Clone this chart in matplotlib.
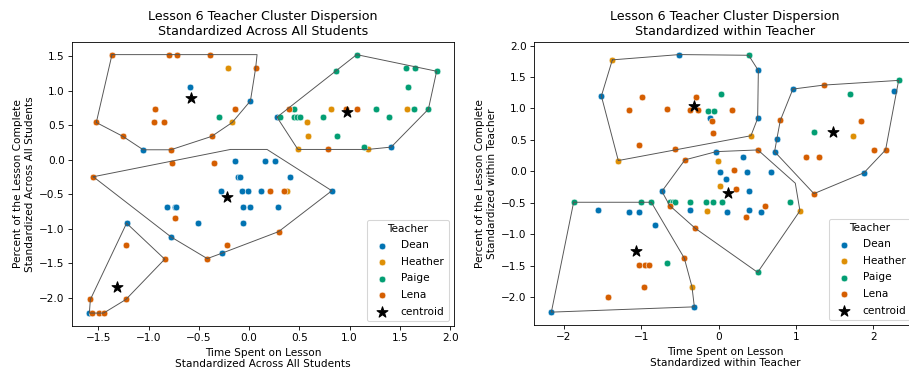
import matplotlib
matplotlib.use("Agg")
import matplotlib.pyplot as plt
from matplotlib.ticker import MultipleLocator

# ---------------- colours (seaborn colorblind) ----------------
TEACHERS = ["Dean", "Heather", "Paige", "Lena"]
COLORS = {"Dean": "#0173B2", "Heather": "#DE8F05", "Paige": "#029E73", "Lena": "#D55E00"}

# ================= LEFT: standardized across all students =================
L_DEAN_X = [-0.591, 0.013, -1.053, 0.277, 1.412, -0.143, 0.158, 0.260, -0.109, -0.086, 0.406,
            -0.281, -0.069, -0.007, 0.115, 0.822, -0.819, -0.740, -0.723, -0.056, 0.006, 0.287,
            -0.509, -0.059, -0.776, -0.271, -1.218, -1.588]
L_DEAN_Y = [1.052, 0.854, 0.145, 0.618, 0.184, -0.014, -0.014, -0.014, -0.250, -0.250, -0.250,
            -0.449, -0.449, -0.449, -0.449, -0.449, -0.685, -0.685, -0.685, -0.685, -0.685, -0.685,
            -0.920, -0.920, -1.119, -1.355, -0.920, -2.223]
L_HEATHER_X = [-0.212, -0.168, 0.815, 1.570, 0.574, 0.587, 0.485, 1.178, 0.376]
L_HEATHER_Y = [1.331, 0.541, 0.734, 0.734, 0.541, 0.339, 0.150, 0.150, -0.449]
L_PAIGE_X = [-0.297, 1.069, 0.864, 1.557, 1.646, 1.864, 1.584, 1.260, 0.442, 1.640, 1.782,
             0.310, 0.451, 0.478, 0.505, 0.739, 1.392, 0.871, 1.145]
L_PAIGE_Y = [0.618, 1.525, 1.284, 1.331, 1.331, 1.284, 1.052, 0.734, 0.734, 0.734, 0.734,
             0.618, 0.618, 0.618, 0.618, 0.618, 0.618, 0.339, 0.184]
L_LENA_X = [-1.363, -0.796, -0.713, -0.393, 0.065, -0.931, -0.143, -0.948, -0.842, -1.519,
            -1.254, -0.373, -0.779, 0.960, 1.072, 0.392, 0.785, -1.549, -0.769, -0.350, 0.208,
            0.350, -0.740, 0.293, -0.222, -0.416, -1.225, -0.839, -1.578, -1.225, -1.561,
            -1.495, -1.446]
L_LENA_Y = [1.525, 1.525, 1.525, 1.525, 1.331, 0.734, 0.734, 0.541, 0.541, 0.541,
            0.339, 0.339, 0.145, 0.734, 0.734, 0.734, 0.150, -0.246, -0.052, -0.052, -0.449,
            -0.449, -0.844, -1.042, -1.239, -1.433, -1.239, -1.441, -2.026, -2.026, -2.223,
            -2.223, -2.223]

L_HULL1_X = [-1.363, 0.079, 0.065, 0.013, -0.168, -0.373, -0.779, -1.053, -1.254, -1.519]
L_HULL1_Y = [1.525, 1.525, 1.331, 0.854, 0.541, 0.339, 0.145, 0.145, 0.339, 0.541]
L_HULL2_X = [0.277, 1.069, 1.864, 1.782, 1.412, 1.178, 0.485]
L_HULL2_Y = [0.618, 1.525, 1.284, 0.734, 0.184, 0.150, 0.150]
L_HULL3_X = [-1.549, -0.185, 0.178, 0.822, 0.293, -0.271, -0.416, -0.776]
L_HULL3_Y = [-0.246, 0.150, 0.150, -0.449, -1.042, -1.355, -1.433, -1.119]
L_HULL4_X = [-1.218, -0.839, -1.225, -1.446, -1.588, -1.578]
L_HULL4_Y = [-0.920, -1.441, -2.026, -2.223, -2.223, -2.026]
L_CENT_X = [-0.574, 0.970, -0.218, -1.317]
L_CENT_Y = [0.903, 0.686, -0.544, -1.847]

# ================= RIGHT: standardized within teacher =================
R_DEAN_X = [-0.508, 0.514, -1.517, -0.116, 0.505, 0.961, 2.273, 0.754, 0.724, 1.880,
            -0.030, 0.310, 0.017, 0.371, 0.682, 0.091, 0.397, -0.734, -0.366, 0.113, 0.392,
            0.543, -1.565, -1.160, -1.035, -0.819, -2.164, -0.314]
R_DEAN_Y = [1.858, 1.605, 1.198, 0.851, 0.841, 1.309, 1.284, 0.519, 0.313, -0.024,
            0.313, 0.225, -0.019, -0.019, -0.019, -0.130, -0.319, -0.319, -0.613, -0.656, -0.613,
            -0.656, -0.620, -0.656, -0.656, -0.862, -2.242, -2.158]
R_HEATHER_X = [-1.375, 0.418, -1.298, 1.743, -0.009, 0.022, -0.151, 1.052, -0.345]
R_HEATHER_Y = [1.774, 0.566, 0.171, 0.566, 0.166, -0.229, -0.629, -0.629, -1.837]
R_PAIGE_X = [0.388, 0.035, -0.133, -0.065, 2.329, 1.699, 1.238, -0.625, -0.591, -0.560,
             -0.366, -0.159, -0.074, 0.039, 0.918, 0.505, -1.876, -1.005, -0.871, -0.673]
R_PAIGE_Y = [1.847, 1.236, 0.961, 0.961, 1.447, 1.236, 0.625, -0.493, -0.493, -0.493,
             -0.493, -0.493, -0.493, -0.493, -0.493, -1.609, -0.493, -0.493, -0.493, -1.467]
R_LENA_X = [-0.992, -0.288, -1.155, -0.664, -0.375, -0.268, 0.168, -0.082, -0.074, -1.026,
            -0.569, 1.358, 0.798, 1.841, 1.129, 1.303, 2.009, 2.160, 1.233, -0.436, 0.508,
            0.198, 0.224, -0.634, 0.599, 0.358, -0.301, -1.035, -0.957, -0.902, -0.444,
            -0.970, -1.432]
R_LENA_Y = [1.178, 1.178, 0.972, 0.988, 0.972, 0.972, 0.972, 0.798, 0.604, 0.414,
            0.351, 1.372, 0.809, 0.798, 0.225, 0.225, 0.340, 0.340, -0.356, 0.182, 0.340,
            0.028, -0.288, -0.545, -0.545, -0.730, -0.909, -1.499, -1.499, -1.499, -1.383,
            -1.847, -2.005]

R_HULL1_X = [-1.375, -0.508, 0.388, 0.514, 0.505, 0.418, -1.298, -1.517]
R_HULL1_Y = [1.774, 1.858, 1.847, 1.605, 0.841, 0.566, 0.171, 1.198]
R_HULL2_X = [0.961, 1.358, 2.329, 2.160, 1.880, 1.233, 0.724, 0.754, 0.798]
R_HULL2_Y = [1.309, 1.372, 1.447, 0.340, -0.024, -0.356, 0.313, 0.519, 0.809]
R_HULL3_X = [-0.436, -0.030, 0.508, 0.992, 1.052, 0.505, -0.301, -0.634, -0.734]
R_HULL3_Y = [0.182, 0.313, 0.340, -0.190, -0.629, -1.609, -0.909, -0.545, -0.319]
R_HULL4_X = [-1.876, -0.871, -0.444, -0.345, -0.314, -2.164]
R_HULL4_Y = [-0.493, -0.493, -1.383, -1.837, -2.158, -2.242]
R_CENT_X = [-0.323, 1.479, 0.120, -1.070]
R_CENT_Y = [1.036, 0.629, -0.345, -1.268]

TITLE_L = "Lesson 6 Teacher Cluster Dispersion\nStandardized Across All Students"
TITLE_R = "Lesson 6 Teacher Cluster Dispersion\nStandardized within Teacher"
XLABEL_L = "Time Spent on Lesson\nStandardized Across All Students"
XLABEL_R = "Time Spent on Lesson\nStandardized within Teacher"
YLABEL_L = "Percent of the Lesson Complete\nStandardized Across All Students"
YLABEL_R = "Percent of the Lesson Complete\nStandardized within Teacher"


def draw(ax, pts, hulls, cx, cy, title, xlabel, ylabel):
    for name in TEACHERS:
        xs, ys = pts[name]
        ax.scatter(xs, ys, s=40, color=COLORS[name], edgecolors="white",
                   linewidths=0.5, label=name, zorder=2)
    for hx, hy in hulls:
        ax.plot(list(hx) + [hx[0]], list(hy) + [hy[0]], color="#555555",
                lw=0.9, zorder=3)
    ax.scatter(cx, cy, marker="*", s=120, color="black", label="centroid", zorder=4)
    ax.set_title(title)
    ax.set_xlabel(xlabel)
    ax.set_ylabel(ylabel)
    ax.yaxis.set_major_locator(MultipleLocator(0.5))
    ax.legend(title="Teacher", loc="lower right", labelspacing=0.62)


fig = plt.figure(figsize=(909 / 75.75, 375 / 75.75), dpi=75.75)
axL = fig.add_axes([72 / 909, 49 / 375, 382 / 909, 284.3 / 375])
axR = fig.add_axes([534 / 909, 50 / 375, 382 / 909, 283.3 / 375])

draw(axL,
     {"Dean": (L_DEAN_X, L_DEAN_Y), "Heather": (L_HEATHER_X, L_HEATHER_Y),
      "Paige": (L_PAIGE_X, L_PAIGE_Y), "Lena": (L_LENA_X, L_LENA_Y)},
     [(L_HULL1_X, L_HULL1_Y), (L_HULL2_X, L_HULL2_Y),
      (L_HULL3_X, L_HULL3_Y), (L_HULL4_X, L_HULL4_Y)],
     L_CENT_X, L_CENT_Y, TITLE_L, XLABEL_L, YLABEL_L)

draw(axR,
     {"Dean": (R_DEAN_X, R_DEAN_Y), "Heather": (R_HEATHER_X, R_HEATHER_Y),
      "Paige": (R_PAIGE_X, R_PAIGE_Y), "Lena": (R_LENA_X, R_LENA_Y)},
     [(R_HULL1_X, R_HULL1_Y), (R_HULL2_X, R_HULL2_Y),
      (R_HULL3_X, R_HULL3_Y), (R_HULL4_X, R_HULL4_Y)],
     R_CENT_X, R_CENT_Y, TITLE_R, XLABEL_R, YLABEL_R)

fig.savefig("out.png", dpi=75.75)
